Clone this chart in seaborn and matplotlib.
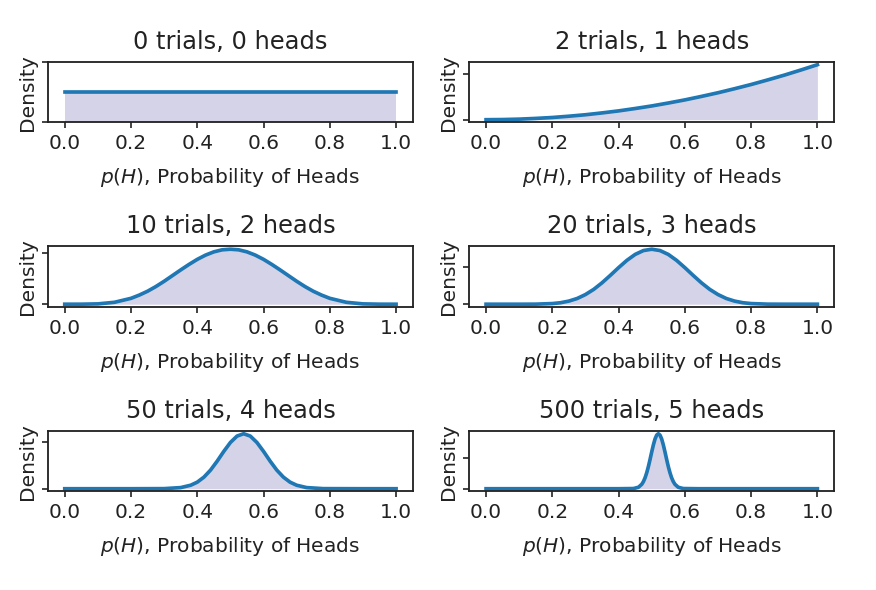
import matplotlib
matplotlib.use("Agg")
import matplotlib.pyplot as plt
import seaborn as sns
import numpy as np

# panel titles
titles = ["0 trials, 0 heads", "2 trials, 1 heads",
          "10 trials, 2 heads", "20 trials, 3 heads",
          "50 trials, 4 heads", "500 trials, 5 heads"]

# curves (x = p(H), y = density)
x0 = [0.0, 1.0]
y0 = [1.0, 1.0]

x1 = [0.0, 0.05, 0.1, 0.15, 0.2, 0.25, 0.3, 0.35, 0.4, 0.45, 0.5,
      0.55, 0.6, 0.65, 0.7, 0.75, 0.8, 0.85, 0.9, 0.95, 1.0]
y1 = [0.0, 0.008, 0.03, 0.07, 0.12, 0.19, 0.27, 0.37, 0.48, 0.61, 0.75,
      0.91, 1.08, 1.27, 1.47, 1.69, 1.92, 2.17, 2.43, 2.71, 3.0]

x2 = [0.0, 0.05, 0.1, 0.15, 0.2, 0.225, 0.25, 0.275, 0.3, 0.325, 0.35, 0.375,
      0.4, 0.425, 0.45, 0.475, 0.5, 0.525, 0.55, 0.575, 0.6, 0.625, 0.65,
      0.675, 0.7, 0.725, 0.75, 0.775, 0.8, 0.85, 0.9, 0.95, 1.0]
y2 = [0.0, 0.001, 0.016, 0.094, 0.29, 0.45, 0.64, 0.87, 1.13, 1.41, 1.69, 1.96,
      2.21, 2.42, 2.58, 2.68, 2.71, 2.68, 2.58, 2.42, 2.21, 1.96, 1.69,
      1.41, 1.13, 0.87, 0.64, 0.45, 0.29, 0.094, 0.016, 0.001, 0.0]

x3 = [0.0, 0.05, 0.1, 0.15, 0.2, 0.225, 0.25, 0.275, 0.3, 0.325, 0.35, 0.375,
      0.4, 0.425, 0.45, 0.475, 0.5, 0.525, 0.55, 0.575, 0.6, 0.625, 0.65,
      0.675, 0.7, 0.725, 0.75, 0.775, 0.8, 0.85, 0.9, 0.95, 1.0]
y3 = [0.0, 0.0, 0.0, 0.004, 0.043, 0.10, 0.21, 0.385, 0.65, 1.00, 1.44, 1.94,
      2.46, 2.95, 3.35, 3.61, 3.70, 3.61, 3.35, 2.95, 2.46, 1.94, 1.44,
      1.00, 0.65, 0.385, 0.21, 0.10, 0.043, 0.004, 0.0, 0.0, 0.0]

x4 = [0.0, 0.1, 0.2, 0.3, 0.35, 0.38, 0.40, 0.42, 0.44, 0.46, 0.48, 0.50,
      0.52, 0.54, 0.56, 0.58, 0.60, 0.62, 0.64, 0.66, 0.68, 0.70, 0.73,
      0.78, 0.9, 1.0]
y4 = [0.0, 0.0, 0.0, 0.01, 0.12, 0.37, 0.70, 1.23, 1.98, 2.93, 3.97, 4.92,
      5.60, 5.85, 5.60, 4.92, 3.97, 2.93, 1.98, 1.23, 0.70, 0.37, 0.12,
      0.01, 0.0, 0.0]

x5 = [0.0, 0.2, 0.4, 0.445, 0.46, 0.47, 0.475, 0.48, 0.485, 0.49, 0.495,
      0.50, 0.505, 0.51, 0.515, 0.52, 0.525, 0.53, 0.535, 0.54, 0.545,
      0.55, 0.555, 0.56, 0.565, 0.57, 0.58, 0.595, 0.64, 0.8, 1.0]
y5 = [0.0, 0.0, 0.0, 0.06, 0.48, 1.45, 2.34, 3.58, 5.23, 7.24, 9.55,
      11.98, 14.28, 16.2, 17.45, 17.9, 17.45, 16.2, 14.28, 11.98, 9.55,
      7.24, 5.23, 3.58, 2.34, 1.45, 0.48, 0.06, 0.0, 0.0, 0.0]

xs = [x0, x1, x2, x3, x4, x5]
ys = [y0, y1, y2, y3, y4, y5]

# y tick positions (labels are hidden in the original)
yticks = [[0, 2], [0, 2.5], [0, 2.5], [0, 2.5], [0, 5], [0, 10]]

fig, axes = plt.subplots(3, 2, figsize=(876 / 120, 590 / 120), dpi=120)
fig.subplots_adjust(left=0.055, right=0.952, top=0.895, bottom=0.167,
                    wspace=0.156, hspace=2.05)

for i, ax in enumerate(axes.flat):
    x = np.array(xs[i])
    y = np.array(ys[i])
    sns.lineplot(x=x, y=y, ax=ax, color='#1f77b4', linewidth=2.2)
    ax.fill_between(x, 0, y, color='#7570b3', alpha=0.3, linewidth=0)
    if i == 0:
        ax.set_ylim(0, 2)
    ax.set_yticks(yticks[i])
    ax.set_yticklabels([])
    ax.set_xticks([0.0, 0.2, 0.4, 0.6, 0.8, 1.0])
    ax.tick_params(labelsize=12.1, length=3.5, width=1, colors='#222222')
    ax.set_title(titles[i], fontsize=14.5, pad=8, color='#222222')
    ax.set_xlabel(r'$p(H)$, Probability of Heads', fontsize=12.1,
                  labelpad=8, color='#222222')
    ax.set_ylabel('Density', fontsize=12.1, labelpad=0, color='#222222')
    for s in ax.spines.values():
        s.set_linewidth(1.1)
        s.set_color('#222222')

plt.savefig('out.png', dpi=120)
